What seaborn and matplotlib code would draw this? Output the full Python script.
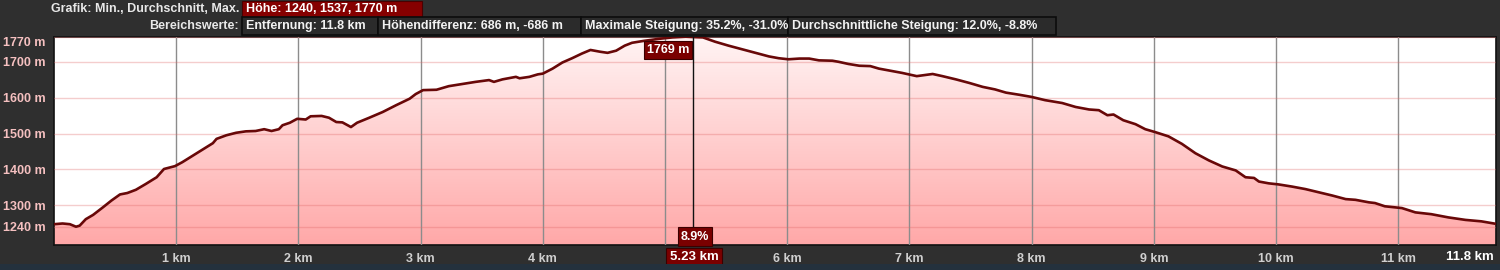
import numpy as np
import pandas as pd
import matplotlib
matplotlib.use("Agg")
import matplotlib.pyplot as plt
import matplotlib.transforms as mtransforms
from matplotlib.patches import Rectangle, Polygon
from matplotlib.colors import LinearSegmentedColormap
import seaborn as sns

# ---------------- data ----------------
distance_km = [0.00, 0.07, 0.13, 0.18, 0.21, 0.26, 0.32, 0.40, 0.47, 0.54, 0.60, 0.67, 0.75, 0.84,
               0.90, 0.99, 1.05, 1.14, 1.22, 1.30, 1.33, 1.41, 1.49, 1.57, 1.65, 1.72, 1.78, 1.84,
               1.87, 1.93, 1.99, 2.06, 2.10, 2.19, 2.25, 2.31, 2.36, 2.43, 2.48, 2.58, 2.69, 2.80,
               2.91, 2.96, 3.02, 3.13, 3.23, 3.34, 3.45, 3.56, 3.60, 3.67, 3.78, 3.81, 3.89, 3.96,
               4.00, 4.08, 4.16, 4.24, 4.32, 4.39, 4.47, 4.53, 4.60, 4.67, 4.73, 4.82, 4.95, 5.06,
               5.17, 5.23, 5.31, 5.41, 5.52, 5.63, 5.74, 5.85, 5.93, 6.01, 6.10, 6.18, 6.26, 6.37,
               6.42, 6.50, 6.59, 6.68, 6.75, 6.86, 6.94, 7.06, 7.19, 7.27, 7.38, 7.49, 7.60, 7.70,
               7.79, 7.90, 8.00, 8.11, 8.25, 8.36, 8.47, 8.55, 8.62, 8.67, 8.75, 8.85, 8.93, 9.01,
               9.12, 9.23, 9.34, 9.45, 9.56, 9.67, 9.75, 9.82, 9.86, 9.94, 10.02, 10.13, 10.24,
               10.35, 10.46, 10.57, 10.65, 10.76, 10.81, 10.89, 11.03, 11.14, 11.27, 11.41, 11.55,
               11.68, 11.80]
elevation_m = [1247, 1249, 1247, 1240, 1243, 1261, 1273, 1294, 1313, 1330, 1334, 1343, 1359, 1378,
               1401, 1409, 1420, 1439, 1456, 1473, 1485, 1495, 1502, 1506, 1507, 1512, 1507, 1512,
               1523, 1530, 1541, 1539, 1548, 1549, 1544, 1532, 1531, 1518, 1530, 1544, 1560, 1579,
               1597, 1610, 1621, 1622, 1632, 1638, 1644, 1649, 1644, 1651, 1658, 1654, 1658, 1665,
               1667, 1681, 1698, 1710, 1723, 1733, 1728, 1725, 1731, 1745, 1753, 1758, 1764, 1768,
               1770, 1769, 1768, 1756, 1745, 1735, 1725, 1715, 1710, 1707, 1709, 1709, 1704, 1703,
               1700, 1694, 1689, 1688, 1681, 1674, 1669, 1660, 1666, 1660, 1651, 1641, 1630, 1623,
               1614, 1608, 1602, 1593, 1585, 1574, 1567, 1565, 1551, 1553, 1537, 1526, 1512, 1504,
               1492, 1471, 1445, 1425, 1408, 1397, 1378, 1376, 1366, 1361, 1358, 1352, 1345,
               1336, 1327, 1317, 1315, 1308, 1306, 1297, 1292, 1280, 1275, 1266, 1259,
               1255, 1248]

y_ticks = [1240, 1300, 1400, 1500, 1600, 1700, 1770]
y_tick_labels = ["1240 m", "1300 m", "1400 m", "1500 m", "1600 m", "1700 m", "1770 m"]
x_ticks = [1, 2, 3, 4, 5, 6, 7, 8, 9, 10, 11]
x_tick_labels = ["1 km", "2 km", "3 km", "4 km", "", "6 km", "7 km", "8 km", "9 km", "10 km", "11 km"]
total_label = "11.8 km"
total_km = 11.8

cursor_km = 5.23
cursor_elev_label = "1769 m"
cursor_grade_label = "8.9%"
cursor_km_label = "5.23 km"

header_row1_title = "Grafik: Min., Durchschnitt, Max."
header_row1_value = "Höhe: 1240, 1537, 1770 m"
header_row2_title = "Bereichswerte:"
header_row2_values = ["Entfernung: 11.8 km", "Höhendifferenz: 686 m, -686 m",
                      "Maximale Steigung: 35.2%, -31.0%", "Durchschnittliche Steigung: 12.0%, -8.8%"]

# ---------------- style ----------------
sns.set_theme(style="white")
plt.rcParams["font.family"] = ["Liberation Sans", "DejaVu Sans"]

W, H = 1500, 270
BG = "#2f2f2f"
fig = plt.figure(figsize=(W / 100, H / 100), dpi=100, facecolor=BG)


def fx(x):
    return x / W


def fy(y):
    return 1 - y / H


# bottom strip (sea texture approximation)
fig.patches.append(Rectangle((0, 0), 1, fy(264), transform=fig.transFigure,
                             facecolor="#24313d", edgecolor="none", zorder=0))

left, right, top, bottom = 54, 1496, 36.7, 245
ax = fig.add_axes([fx(left), fy(bottom), fx(right - left), (bottom - top) / H])
ax.set_facecolor("white")

df = pd.DataFrame({"km": distance_km, "elev": elevation_m})
ymin, ymax = 1189, 1770

verts = [(distance_km[0], ymin)] + list(zip(distance_km, elevation_m)) + [(distance_km[-1], ymin)]
clip_poly = Polygon(verts, closed=True, facecolor="none", edgecolor="none")
ax.add_patch(clip_poly)
grad = np.linspace(0, 1, 256).reshape(-1, 1)
cmap = LinearSegmentedColormap.from_list("g", ["#ffa8a8", "#fff4f4"])
im = ax.imshow(grad, extent=[0, total_km, ymin, ymax], aspect="auto", origin="lower",
               cmap=cmap, zorder=1, interpolation="bilinear")
im.set_clip_path(clip_poly)

sns.lineplot(data=df, x="km", y="elev", color="#680808", linewidth=1.9, ax=ax, zorder=4)

ax.set_xlim(0, total_km)
ax.set_ylim(ymin, ymax)
ax.set_xlabel("")
ax.set_ylabel("")

ax.set_yticks(y_ticks)
ax.set_yticklabels(y_tick_labels)
ax.set_xticks(x_ticks)
ax.set_xticklabels(x_tick_labels)
ax.tick_params(axis="both", length=0)
ax.tick_params(axis="y", colors="#f5c0c0", labelsize=9, pad=6)
ax.tick_params(axis="x", colors="#cfcfcf", labelsize=9, pad=6)
for lab in ax.get_yticklabels():
    lab.set_fontweight("bold")
    if lab.get_text() == "1770 m":
        lab.set_verticalalignment("top")
for lab in ax.get_xticklabels():
    lab.set_fontweight("bold")

ax.set_axisbelow(False)
ax.yaxis.grid(True, color="#e06868", alpha=0.33, linewidth=1)
ax.xaxis.grid(True, color="#8c8c8c", linewidth=1)
for s in ax.spines.values():
    s.set_color("#111111")
    s.set_linewidth(1.2)

# cursor
ax.axvline(cursor_km, color="#111111", linewidth=1, zorder=5)
box = dict(boxstyle="square,pad=0.25", facecolor="#7a0000", edgecolor="#3a0000", linewidth=0.8)
ax.annotate(cursor_elev_label, xy=(cursor_km, ymax), xytext=(-4, -7), textcoords="offset pixels",
            ha="right", va="top", color="white", fontsize=9, fontweight="bold", bbox=box, zorder=6)
trans = mtransforms.blended_transform_factory(ax.transData, ax.transAxes)
ax.text(cursor_km + 0.015, 0.012, cursor_grade_label, transform=trans, ha="center", va="bottom",
        color="white", fontsize=9, fontweight="bold", bbox=box, zorder=6)
ax.annotate(cursor_km_label, xy=(cursor_km, 0), xycoords=trans, xytext=(1, -12),
            textcoords="offset pixels", ha="center", va="center", color="white", fontsize=9.5,
            fontweight="bold", bbox=box, zorder=6, annotation_clip=False)
ax.annotate(total_label, xy=(total_km, 0), xycoords=trans, xytext=(-2, -12),
            textcoords="offset pixels", ha="right", va="center", color="white", fontsize=9.5,
            fontweight="bold", zorder=6, annotation_clip=False)

# ---------------- header ----------------
fig.text(fx(239), fy(9), header_row1_title, ha="right", va="center", color="#e8e8e8",
         fontsize=9, fontweight="bold")
fig.patches.append(Rectangle((fx(242), fy(17)), fx(422 - 242), 16 / H, transform=fig.transFigure,
                             facecolor="#860000", edgecolor="#4a0000", linewidth=0.8))
fig.text(fx(246), fy(9), header_row1_value, ha="left", va="center", color="white",
         fontsize=9, fontweight="bold")

fig.text(fx(239), fy(26), header_row2_title, ha="right", va="center", color="#e8e8e8",
         fontsize=9, fontweight="bold")
edges = [242, 378, 581, 788, 1056]
for i, txt in enumerate(header_row2_values):
    x0, x1 = edges[i], edges[i + 1]
    fig.patches.append(Rectangle((fx(x0), fy(34.5)), fx(x1 - x0), 17 / H, transform=fig.transFigure,
                                 facecolor="#2b2b2b", edgecolor="#0c0c0c", linewidth=1.2))
    fig.text(fx(x0 + 4), fy(26), txt, ha="left", va="center", color="#f2f2f2",
             fontsize=9, fontweight="bold")

fig.savefig("out.png", dpi=100, facecolor=BG)
